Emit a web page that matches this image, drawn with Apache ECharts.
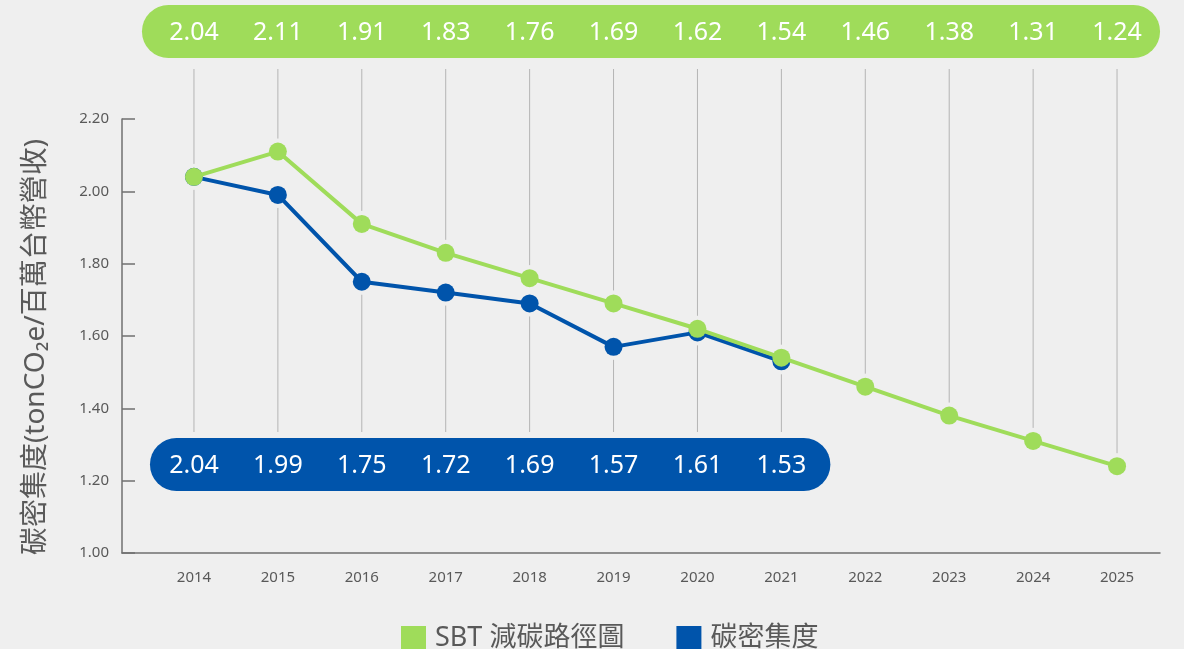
<!DOCTYPE html>
<html>
<head>
<meta charset="utf-8">
<script src="https://cdn.jsdelivr.net/npm/echarts@6/dist/echarts.min.js"></script>
<style>
  html, body { margin: 0; padding: 0; background: #efefef; }
  #chart { width: 1184px; height: 649px; }
</style>
</head>
<body>
<div id="chart"></div>
<script>
// 年份
const years = ['2014', '2015', '2016', '2017', '2018', '2019', '2020', '2021', '2022', '2023', '2024', '2025'];
// SBT 減碳路徑圖
const sbtValues = [2.04, 2.11, 1.91, 1.83, 1.76, 1.69, 1.62, 1.54, 1.46, 1.38, 1.31, 1.24];
// 碳密集度 (實際)
const actualValues = [2.04, 1.99, 1.75, 1.72, 1.69, 1.57, 1.61, 1.53];
// y 軸刻度
const yTicks = [1.0, 1.2, 1.4, 1.6, 1.8, 2.0, 2.2];

const GREEN = '#9fdc5a';
const BLUE = '#0054ab';
const GREY_TEXT = '#595959';
const FONT = '"Noto Sans", "Noto Sans CJK TC", sans-serif';

const chart = echarts.init(document.getElementById('chart'));

// 垂直細線 (有點的地方留空)
function renderDropLine(params, api) {
  const i = params.dataIndex;
  const x = api.coord([i, sbtValues[i]])[0];
  const gY = api.coord([i, sbtValues[i]])[1];
  const gap = 13;
  const lines = [{
    type: 'line',
    shape: { x1: x, y1: 69, x2: x, y2: gY - gap },
    style: { stroke: '#b4b4b4', lineWidth: 1 }
  }];
  if (i < actualValues.length) {
    const bY = api.coord([i, actualValues[i]])[1];
    lines.push({
      type: 'line',
      shape: { x1: x, y1: Math.max(gY, bY) + gap, x2: x, y2: 432 },
      style: { stroke: '#b4b4b4', lineWidth: 1 }
    });
  }
  return { type: 'group', children: lines };
}

// 上下兩條膠囊標籤
function pillRenderer(values, color, top, padLeft, padRight) {
  return function (params, api) {
    const i = params.dataIndex;
    const x = api.coord([i, values[i]])[0];
    const h = 53;
    const children = [];
    if (i === 0) {
      const xLast = api.coord([values.length - 1, values[values.length - 1]])[0];
      children.push({
        type: 'rect',
        shape: { x: x - padLeft, y: top, width: xLast - x + padLeft + padRight, height: h, r: h / 2 },
        style: { fill: color }
      });
    }
    children.push({
      type: 'text',
      style: {
        text: values[i].toFixed(2),
        x: x,
        y: top + h / 2 + 1,
        align: 'center',
        verticalAlign: 'middle',
        fontSize: 25,
        fontFamily: FONT,
        fill: '#ffffff'
      }
    });
    return { type: 'group', children: children };
  };
}

const option = {
  backgroundColor: '#efefef',
  animation: false,
  grid: [
    { left: 152, right: 25, top: 119, bottom: 96 },
    { left: 122, right: 24, top: 119, bottom: 96 }
  ],
  xAxis: [{
    type: 'category',
    gridIndex: 0,
    data: years,
    axisLine: { show: false },
    axisTick: { show: false },
    axisLabel: { color: GREY_TEXT, fontSize: 15, fontFamily: FONT, margin: 17 }
  }, {
    type: 'value',
    gridIndex: 1,
    min: 0,
    max: 1,
    axisLine: { show: true, lineStyle: { color: '#707070', width: 1.5 } },
    axisTick: { show: false },
    axisLabel: { show: false },
    splitLine: { show: false }
  }],
  yAxis: [{
    type: 'value',
    gridIndex: 0,
    min: yTicks[0],
    max: yTicks[yTicks.length - 1],
    interval: 0.2,
    offset: 30,
    axisLine: { show: true, lineStyle: { color: '#707070', width: 1.5 } },
    axisTick: { show: true, inside: true, length: 13, lineStyle: { color: '#707070', width: 1.5 } },
    splitLine: { show: false },
    axisLabel: {
      color: GREY_TEXT, fontSize: 15, fontFamily: FONT, margin: 13,
      formatter: v => v.toFixed(2)
    },
    name: '碳密集度(tonCO₂e/百萬台幣營收)',
    nameLocation: 'middle',
    nameRotate: 90,
    nameGap: 72,
    nameTextStyle: { color: GREY_TEXT, fontSize: 28, fontFamily: FONT, padding: [0, 22, 0, 0] }
  }, {
    type: 'value',
    gridIndex: 1,
    show: false
  }],
  legend: {
    top: 620,
    left: 396,
    icon: 'rect',
    itemWidth: 25,
    itemHeight: 25,
    itemGap: 52,
    data: ['SBT 減碳路徑圖', '碳密集度'],
    textStyle: { color: GREY_TEXT, fontSize: 27, fontFamily: FONT, padding: [0, 0, 0, 4] }
  },
  series: [
    {
      type: 'custom',
      name: 'dropLines',
      z: 1,
      silent: true,
      renderItem: renderDropLine,
      data: sbtValues.map((v, i) => [i, v]),
      encode: { x: 0, y: 1 }
    },
    {
      type: 'line',
      name: '碳密集度',
      z: 3,
      data: actualValues,
      symbol: 'circle',
      symbolSize: 18,
      lineStyle: { color: BLUE, width: 4 },
      itemStyle: { color: BLUE }
    },
    {
      type: 'line',
      name: 'SBT 減碳路徑圖',
      z: 4,
      data: sbtValues,
      symbol: 'circle',
      symbolSize: 18,
      lineStyle: { color: GREEN, width: 4 },
      itemStyle: { color: GREEN }
    },
    {
      type: 'custom',
      name: 'sbtPill',
      z: 5,
      silent: true,
      renderItem: pillRenderer(sbtValues, GREEN, 5, 52, 43),
      data: sbtValues.map((v, i) => [i, v]),
      encode: { x: 0, y: 1 }
    },
    {
      type: 'custom',
      name: 'actualPill',
      z: 5,
      silent: true,
      renderItem: pillRenderer(actualValues, BLUE, 438, 44, 49),
      data: actualValues.map((v, i) => [i, v]),
      encode: { x: 0, y: 1 }
    }
  ]
};

chart.setOption(option);
</script>
</body>
</html>
